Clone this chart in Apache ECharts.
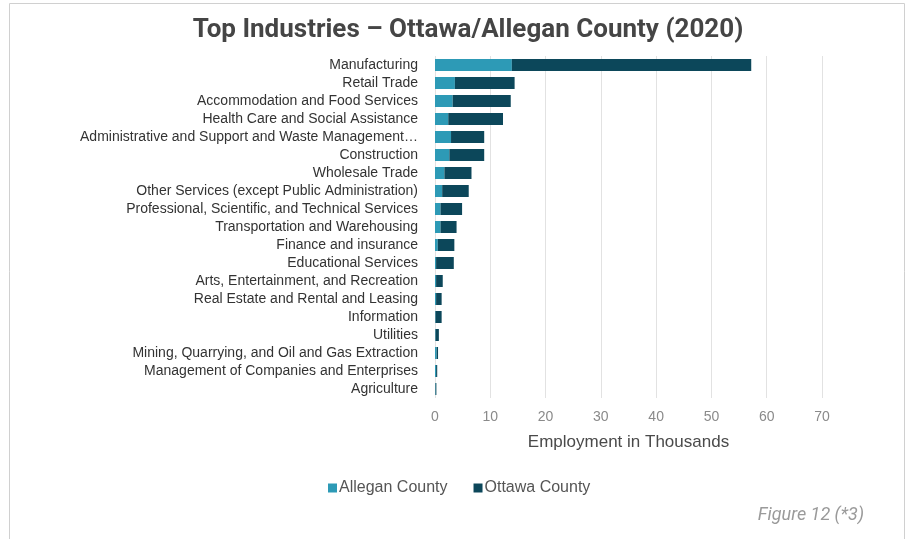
<!DOCTYPE html>
<html>
<head>
<meta charset="utf-8">
<script src="https://cdn.jsdelivr.net/npm/echarts@6/dist/echarts.min.js"></script>
<style>
  html, body { margin: 0; padding: 0; background: #fff; }
  #chart { width: 915px; height: 539px; }
</style>
</head>
<body>
<div id="chart"></div>
<script>
// industries, top to bottom as in the picture
var industries = [
  'Manufacturing',
  'Retail Trade',
  'Accommodation and Food Services',
  'Health Care and Social Assistance',
  'Administrative and Support and Waste Management…',
  'Construction',
  'Wholesale Trade',
  'Other Services (except Public Administration)',
  'Professional, Scientific, and Technical Services',
  'Transportation and Warehousing',
  'Finance and insurance',
  'Educational Services',
  'Arts, Entertainment, and Recreation',
  'Real Estate and Rental and Leasing',
  'Information',
  'Utilities',
  'Mining, Quarrying, and Oil and Gas Extraction',
  'Management of Companies and Enterprises',
  'Agriculture'
];

// employment in thousands
var allegan = [13.9, 3.6, 3.2, 2.4, 2.9, 2.6, 1.7, 1.3, 1.0, 1.0, 0.5, 0.2, 0.2, 0.2, 0.1, 0.1, 0.3, 0.2, 0.1];
var ottawa  = [43.3, 10.8, 10.5, 9.9, 6.0, 6.3, 4.9, 4.8, 3.9, 2.9, 3.0, 3.2, 1.2, 1.0, 1.1, 0.6, 0.25, 0.2, 0.15];

var xTicks = [0, 10, 20, 30, 40, 50, 60, 70];

var chart = echarts.init(document.getElementById('chart'));

var option = {
  animation: false,
  title: {
    text: 'Top Industries \u2013 Ottawa/Allegan County (2020)',
    left: 463,
    textAlign: 'center',
    top: 12,
    textStyle: { fontFamily: 'Roboto', fontSize: 26, fontWeight: 'bold', color: '#454545' }
  },
  graphic: [
    { type: 'rect', shape: { x: 9.5, y: 3.5, width: 895, height: 545 },
      style: { fill: 'none', stroke: '#d0d0d0', lineWidth: 1 }, silent: true },
    { type: 'text', right: 51, top: 506,
      style: { text: 'Figure 12 (*3)', font: 'italic 18px Roboto', fill: '#9a9a9a' } }
  ],
  legend: {
    data: ['Allegan County', 'Ottawa County'],
    left: 323,
    top: 475,
    itemWidth: 9,
    itemHeight: 9,
    itemGap: 26,
    icon: 'rect',
    textStyle: { fontFamily: 'Liberation Sans', fontSize: 16, color: '#555', padding: [0, 0, 0, -3] }
  },
  grid: { left: 435, right: 93, top: 56, bottom: 141 },
  xAxis: {
    type: 'value',
    min: xTicks[0],
    max: xTicks[xTicks.length - 1],
    interval: 10,
    name: 'Employment in Thousands',
    nameLocation: 'middle',
    nameGap: 36,
    nameTextStyle: { fontFamily: 'Liberation Sans', fontSize: 17, color: '#4a4a4a' },
    axisLine: { show: false },
    axisTick: { show: false },
    axisLabel: { fontFamily: 'Liberation Sans', fontSize: 14, color: '#8a8a8a', margin: 12 },
    splitLine: { lineStyle: { color: '#e2e2e2' } }
  },
  yAxis: {
    type: 'category',
    data: industries,
    inverse: true,
    axisLine: { show: false },
    axisTick: { show: false },
    axisLabel: { interval: 0, fontFamily: 'Liberation Sans', fontSize: 14, color: '#333', margin: 17 }
  },
  series: [
    {
      name: 'Allegan County',
      type: 'bar',
      stack: 'total',
      barWidth: 12,
      data: allegan,
      itemStyle: { color: '#2d9ab6' }
    },
    {
      name: 'Ottawa County',
      type: 'bar',
      stack: 'total',
      barWidth: 12,
      data: ottawa,
      itemStyle: { color: '#0c475a' }
    }
  ]
};

chart.setOption(option);
</script>
</body>
</html>
